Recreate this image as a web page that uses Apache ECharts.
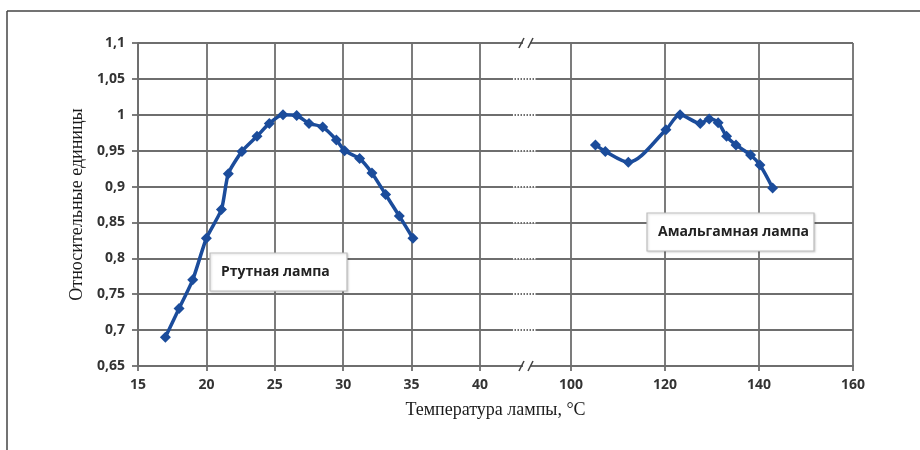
<!DOCTYPE html>
<html>
<head>
<meta charset="utf-8">
<script src="https://cdn.jsdelivr.net/npm/echarts@6/dist/echarts.min.js"></script>
<style>
  html, body { margin: 0; padding: 0; background: #fff; }
  #chart { width: 920px; height: 450px; }
</style>
</head>
<body>
<div id="chart"></div>
<script>
// Ртутная лампа (левый участок оси)
const mercuryX = [17, 18, 19, 20, 21.1, 21.6, 22.6, 23.7, 24.6, 25.6, 26.6, 27.5, 28.5, 29.5, 30.1, 31.2, 32.1, 33.1, 34.1, 35.1]
const mercuryY = [0.69, 0.73, 0.77, 0.828, 0.868, 0.918, 0.949, 0.97, 0.988, 1.0, 0.999, 0.988, 0.983, 0.965, 0.95, 0.939, 0.919, 0.889, 0.859, 0.828]
// Амальгамная лампа (правый участок оси)
const amalgamX = [105.2, 107.3, 112.2, 120.2, 123.2, 127.5, 129.4, 131.3, 133.1, 135.1, 138.2, 140.2, 142.9]
const amalgamY = [0.958, 0.949, 0.934, 0.979, 1.0, 0.988, 0.994, 0.989, 0.97, 0.958, 0.944, 0.93, 0.898]
// оси
const yTicks = [0.65, 0.7, 0.75, 0.8, 0.85, 0.9, 0.95, 1, 1.05, 1.1]
const leftRange = [15, 40]
const rightRange = [100, 160]

const gridColor = '#6e6e6e'
const lineColor = '#1b4c9b'
const labelFont = { color: '#333', fontSize: 14, fontWeight: 'bold', fontFamily: 'Open Sans' }

const chart = echarts.init(document.getElementById('chart'))

function pairs(xs, ys) {
  return xs.map((x, i) => [x, ys[i]])
}

const yBase = {
  min: yTicks[0],
  max: yTicks[yTicks.length - 1],
  interval: 0.05
}

const option = {
  animation: false,
  grid: [
    { left: 138, top: 43, width: 342, height: 323 },
    { left: 138, top: 43, width: 715, height: 323 },
    { left: 571, top: 43, width: 282, height: 323 }
  ],
  xAxis: [{
    type: 'value',
    gridIndex: 0,
    min: leftRange[0],
    max: leftRange[1],
    interval: 5,
    axisLine: { show: true, lineStyle: { color: gridColor, width: 1.8 } },
    axisTick: { show: true, length: 5, lineStyle: { color: gridColor, width: 1.8 } },
    axisLabel: Object.assign({ margin: 12 }, labelFont),
    splitLine: { show: true, lineStyle: { color: gridColor, width: 1.8 } }
  }, {
    type: 'value',
    gridIndex: 1,
    min: 0,
    max: 1,
    name: 'Температура лампы, °C',
    nameLocation: 'middle',
    nameGap: 35,
    nameTextStyle: { color: '#1a1a1a', fontSize: 18, fontFamily: 'Liberation Serif' },
    axisLine: { show: false },
    axisTick: { show: false },
    axisLabel: { show: false },
    splitLine: { show: false }
  }, {
    type: 'value',
    gridIndex: 2,
    min: rightRange[0],
    max: rightRange[1],
    interval: 20,
    axisLine: { show: true, lineStyle: { color: gridColor, width: 1.8 } },
    axisTick: { show: true, length: 5, lineStyle: { color: gridColor, width: 1.8 } },
    axisLabel: Object.assign({ margin: 12 }, labelFont),
    splitLine: { show: true, lineStyle: { color: gridColor, width: 1.8 } }
  }],
  yAxis: [
    Object.assign({ type: 'value', gridIndex: 0, show: false }, yBase),
    Object.assign({
      type: 'value',
      gridIndex: 1,
      name: 'Относительные единицы',
      nameLocation: 'middle',
      nameGap: 52,
      nameTextStyle: { color: '#1a1a1a', fontSize: 18, fontFamily: 'Liberation Serif' },
      axisLine: { show: true, lineStyle: { color: gridColor, width: 1.8 } },
      axisTick: { show: true, length: 6, lineStyle: { color: gridColor, width: 1.8 } },
      axisLabel: Object.assign({
        margin: 13,
        formatter: v => String(+v.toFixed(2)).replace('.', ',')
      }, labelFont),
      splitLine: { show: true, lineStyle: { color: gridColor, width: 1.8 } }
    }, yBase),
    Object.assign({ type: 'value', gridIndex: 2, show: false }, yBase)
  ],
  series: [{
    type: 'line',
    name: 'Ртутная лампа',
    xAxisIndex: 0,
    yAxisIndex: 0,
    smooth: 0.2,
    symbol: 'diamond',
    symbolSize: 11,
    lineStyle: { color: lineColor, width: 3.5 },
    itemStyle: { color: lineColor },
    data: pairs(mercuryX, mercuryY)
  }, {
    type: 'line',
    name: 'Амальгамная лампа',
    xAxisIndex: 2,
    yAxisIndex: 2,
    smooth: 0.3,
    symbol: 'diamond',
    symbolSize: 11,
    lineStyle: { color: lineColor, width: 3.5 },
    itemStyle: { color: lineColor },
    data: pairs(amalgamX, amalgamY)
  }]
}

chart.setOption(option)

// рамка, подписи кривых и знаки разрыва оси
const extras = [
  { type: 'line', shape: { x1: 7, y1: 11, x2: 920, y2: 11 }, style: { stroke: '#444', lineWidth: 1.5 }, z: 10 },
  { type: 'line', shape: { x1: 7, y1: 11, x2: 7, y2: 450 }, style: { stroke: '#444', lineWidth: 1.5 }, z: 10 },
  {
    type: 'rect', shape: { x: 210, y: 253, width: 137, height: 38 },
    style: { fill: '#fff', stroke: '#bdbdbd', lineWidth: 1.2, shadowBlur: 2, shadowColor: 'rgba(0,0,0,0.15)', shadowOffsetX: 1, shadowOffsetY: 1 }, z: 20
  },
  { type: 'text', x: 221, y: 272, style: { text: 'Ртутная лампа', fill: '#222', font: 'bold 14px "Open Sans"', verticalAlign: 'middle' }, z: 21 },
  {
    type: 'rect', shape: { x: 647, y: 213, width: 167, height: 38 },
    style: { fill: '#fff', stroke: '#bdbdbd', lineWidth: 1.2, shadowBlur: 2, shadowColor: 'rgba(0,0,0,0.15)', shadowOffsetX: 1, shadowOffsetY: 1 }, z: 20
  },
  { type: 'text', x: 658, y: 232, style: { text: 'Амальгамная лампа', fill: '#222', font: 'bold 14px "Open Sans"', verticalAlign: 'middle' }, z: 21 }
]

yTicks.forEach((t, i) => {
  const py = chart.convertToPixel({ yAxisIndex: 1 }, t)
  if (i === 0 || i === yTicks.length - 1) {
    extras.push({ type: 'rect', shape: { x: 523, y: py - 3, width: 7, height: 6 }, style: { fill: '#fff' }, z: 15 })
    extras.push({ type: 'line', shape: { x1: 519, y1: py + 5, x2: 524, y2: py - 5 }, style: { stroke: '#444', lineWidth: 1.5 }, z: 16 })
    extras.push({ type: 'line', shape: { x1: 528, y1: py + 5, x2: 533, y2: py - 5 }, style: { stroke: '#444', lineWidth: 1.5 }, z: 16 })
  } else {
    extras.push({ type: 'line', shape: { x1: 513, y1: py, x2: 537, y2: py }, style: { stroke: '#fff', lineWidth: 2.2, lineDash: [1.5, 1.5] }, z: 15 })
  }
})

chart.setOption({ graphic: extras })
</script>
</body>
</html>
